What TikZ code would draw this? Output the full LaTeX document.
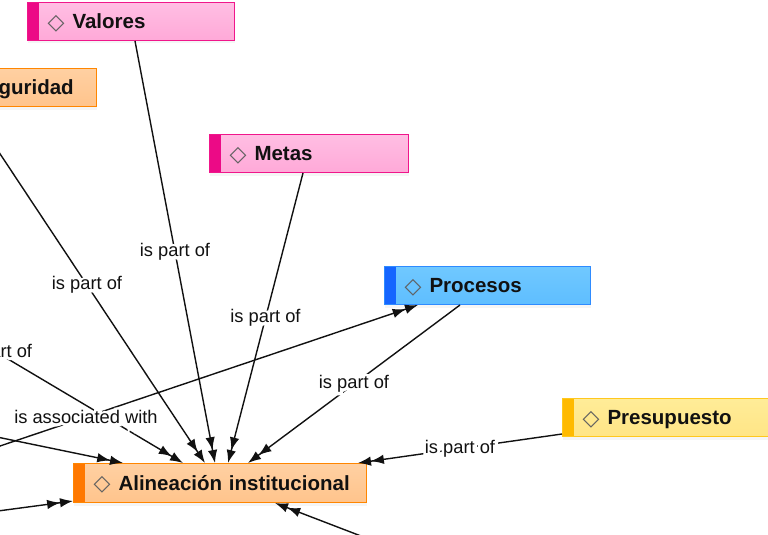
\documentclass[tikz,border=0pt]{standalone}
\usepackage{fontspec}
\setmainfont{Liberation Sans}
\newfontfamily\symfont{DejaVu Sans}
\newfontfamily\halofont[FakeBold=30]{Liberation Sans}
\usetikzlibrary{arrows.meta,calc,shadows}

\definecolor{pinkT}{HTML}{FFBEE3}
\definecolor{pinkF}{HTML}{FFA9D8}
\definecolor{pinkB}{HTML}{F0168B}
\definecolor{pinkS}{HTML}{EC0A86}
\definecolor{orT}{HTML}{FFD0A2}
\definecolor{orF}{HTML}{FFC48C}
\definecolor{orB}{HTML}{FF8600}
\definecolor{orS}{HTML}{FF7800}
\definecolor{blT}{HTML}{70C8FF}
\definecolor{blF}{HTML}{5EBEFF}
\definecolor{blB}{HTML}{2E8BFF}
\definecolor{blS}{HTML}{1565FF}
\definecolor{yeT}{HTML}{FFEC98}
\definecolor{yeF}{HTML}{FFE586}
\definecolor{yeB}{HTML}{FFC81E}
\definecolor{yeS}{HTML}{FFBA00}
\definecolor{dmdgray}{HTML}{606060}
\definecolor{inkc}{HTML}{111111}

% left padding and thin diamond marker in front of every concept name
\newcommand\dmd{\hspace*{20pt}\makebox[25pt][l]{\mdseries\raisebox{-0.3pt}{\color{dmdgray}\symfont\fontsize{22}{22}\selectfont ◇}}}
% label text with a white halo that knocks out the connector behind it
\newcommand\halo[1]{\rlap{\color{white}\halofont #1}#1}

\tikzset{
  x=1pt, y=-1pt,
  box/.style={rectangle, line width=1pt, minimum height=38pt, anchor=north west,
    inner xsep=0pt, inner ysep=0pt, align=left, text height=14.8pt, text depth=0pt,
    text=inkc, font=\bfseries\fontsize{20.5}{24}\selectfont,
    drop shadow={shadow xshift=0pt, shadow yshift=-3pt, opacity=0.08}},
  stripe/.style={path picture={\fill[#1] (path picture bounding box.south west)
    rectangle ([xshift=11pt]path picture bounding box.north west);}},
  pinkbox/.style={box, draw=pinkB, top color=pinkT, bottom color=pinkF, stripe=pinkS},
  orangebox/.style={box, draw=orB, top color=orT, bottom color=orF, stripe=orS},
  bluebox/.style={box, draw=blB, top color=blT, bottom color=blF, stripe=blS},
  yellowbox/.style={box, draw=yeB, top color=yeT, bottom color=yeF, stripe=yeS},
  arr/.style={line width=1.4pt, draw=inkc,
    -{Latex[length=13pt,width=9.5pt,sep=0pt] Latex[length=13pt,width=9.5pt]}},
  lbl/.style={font=\fontsize{18.3}{20}\selectfont, text=inkc, inner sep=1pt, pos=0.5}
}

\begin{document}
\begin{tikzpicture}
\useasboundingbox (0,0) rectangle (768,535);
\clip (0,0) rectangle (768,535);
\fill[white] (0,0) rectangle (768,535);

% concepts
\node[pinkbox, text width=207pt] (val) at (27,2) {\dmd Valores};
\node[orangebox, text width=168pt] (seg) at (-72,68) {\dmd Seguridad};
\node[pinkbox, text width=199pt] (met) at (209,134) {\dmd Metas};
\node[bluebox, text width=206pt] (proc) at (384,266) {\dmd Procesos};
\node[yellowbox, text width=215pt] (pre) at (562,398) {\dmd Presupuesto};
\node[orangebox, text width=293pt, minimum height=39pt] (alin) at (73,463) {\dmd Alineación institucional};

% far ends of links whose concepts lie outside the view
\coordinate (srcA) at (-189,242);
\coordinate (srcB) at (-246,529);
\coordinate (srcC) at (-100,417);
\coordinate (srcD) at (-100,524);
\coordinate (srcE) at (400,551);

% links
\draw[arr] (srcC) -- ([xshift=50pt]alin.north west);
\draw[arr] (srcD) -- ([yshift=2pt]alin.south west);
\draw[arr] (srcE) -- ([xshift=202pt]alin.south west);
\draw[arr] (srcA) -- node[lbl]{\halo{is part of}} ([xshift=110pt]alin.north west);
\draw[arr] ([xshift=41pt]seg.south west) -- node[lbl]{\halo{is part of}} ([xshift=132pt]alin.north west);
\draw[arr] ([xshift=108pt]val.south west) -- node[lbl]{\halo{is part of}} ([xshift=142pt]alin.north west);
\draw[arr] ([xshift=94pt]met.south west) -- node[lbl]{\halo{is part of}} ([xshift=155pt]alin.north west);
\draw[arr] ([xshift=76pt]proc.south west) -- node[lbl]{\halo{is part of}} ([xshift=175pt]alin.north west);
\draw[arr] ([yshift=3pt]pre.south west) -- node[lbl]{\halo{is part of}} ([xshift=285pt]alin.north west);
\draw[arr] (srcB) -- node[lbl]{\halo{is associated with}} ([xshift=34pt]proc.south west);
\end{tikzpicture}
\end{document}
